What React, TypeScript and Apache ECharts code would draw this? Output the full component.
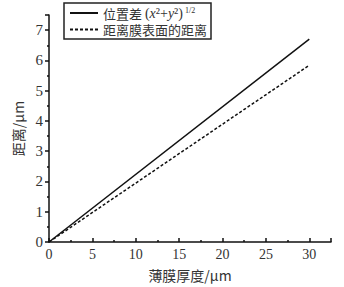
import React, { useEffect, useRef } from "react";
import * as echarts from "echarts";

const thickness = [0, 30];
const positionDiff = [0, 6.7];
const surfaceDist = [0, 5.84];
const seriesNames = ["位置差", "距离膜表面的距离"];

export default function App() {
  const ref = useRef<HTMLDivElement>(null);
  useEffect(() => {
    const chart = echarts.init(ref.current!, null, { renderer: "svg" });
    const serif = "'Liberation Serif', 'DejaVu Serif', serif";
    const cjk = "'Noto Sans CJK SC', sans-serif";
    chart.setOption({
      animation: false,
      backgroundColor: "#fff",
      grid: { left: 49, right: 13, top: 15, bottom: 42 },
      legend: {
        left: 64,
        top: 3,
        orient: "vertical",
        itemWidth: 28,
        itemHeight: 12,
        itemGap: 3,
        padding: [3, 4, 3, 5],
        borderColor: "#222",
        borderWidth: 1.5,
        data: seriesNames,
        itemStyle: { opacity: 0 },
        formatter: (n: string) =>
          n === seriesNames[0]
            ? "{c|位置差 }{n|(}{i|x}{n|²+}{i|y}{n|²)}{s|1/2}"
            : "{c|" + n + "}",
        textStyle: {
          color: "#333",
          rich: {
            c: { fontFamily: cjk, fontSize: 13, color: "#333" },
            i: { fontFamily: serif, fontStyle: "italic", fontSize: 14, color: "#333" },
            n: { fontFamily: serif, fontSize: 14, color: "#333" },
            s: { fontFamily: serif, fontSize: 8, color: "#333", verticalAlign: "top", padding: [0, 0, 0, 2] },
          },
        },
      },
      xAxis: {
        type: "value",
        min: 0,
        max: 32.5,
        interval: 5,
        name: "薄膜厚度/μm",
        nameLocation: "middle",
        nameGap: 26,
        nameTextStyle: { fontFamily: cjk, fontSize: 14, color: "#333" },
        axisLine: { lineStyle: { color: "#111", width: 1.5 } },
        axisTick: { inside: true, length: 4, lineStyle: { color: "#111", width: 1.5 } },
        minorTick: { show: true, splitNumber: 2, length: 2, lineStyle: { color: "#111", width: 1.5 } },
        splitLine: { show: false },
        axisLabel: {
          fontFamily: serif,
          fontSize: 14,
          color: "#333",
          margin: 5,
          formatter: (v: number) => (v % 5 === 0 && v <= 30 ? String(v) : ""),
        },
      },
      yAxis: {
        type: "value",
        min: 0,
        max: 7.5,
        interval: 1,
        name: "距离/μm",
        nameLocation: "middle",
        nameGap: 24,
        nameRotate: 90,
        nameTextStyle: { fontFamily: cjk, fontSize: 14, color: "#333" },
        axisLine: { lineStyle: { color: "#111", width: 1.5 } },
        axisTick: { length: 4, lineStyle: { color: "#111", width: 1.5 } },
        minorTick: { show: true, splitNumber: 2, length: 2, lineStyle: { color: "#111", width: 1.5 } },
        splitLine: { show: false },
        axisLabel: {
          fontFamily: serif,
          fontSize: 15,
          color: "#333",
          margin: 6,
          formatter: (v: number) => (Number.isInteger(v) ? String(v) : ""),
        },
      },
      series: [
        {
          name: seriesNames[0],
          type: "line",
          data: thickness.map((x, i) => [x, positionDiff[i]]),
          showSymbol: false,
          symbol: "none",
          lineStyle: { color: "#111", width: 1.5, type: "solid" },
          itemStyle: { color: "#111" },
        },
        {
          name: seriesNames[1],
          type: "line",
          data: thickness.map((x, i) => [x, surfaceDist[i]]),
          showSymbol: false,
          symbol: "none",
          lineStyle: { color: "#111", width: 1.5, type: [3, 2] },
          itemStyle: { color: "#111" },
        },
      ],
    });
    return () => chart.dispose();
  }, []);
  return (
    <div
      ref={ref}
      style={{ position: "fixed", left: 0, top: 0, width: 344, height: 287 }}
    />
  );
}
